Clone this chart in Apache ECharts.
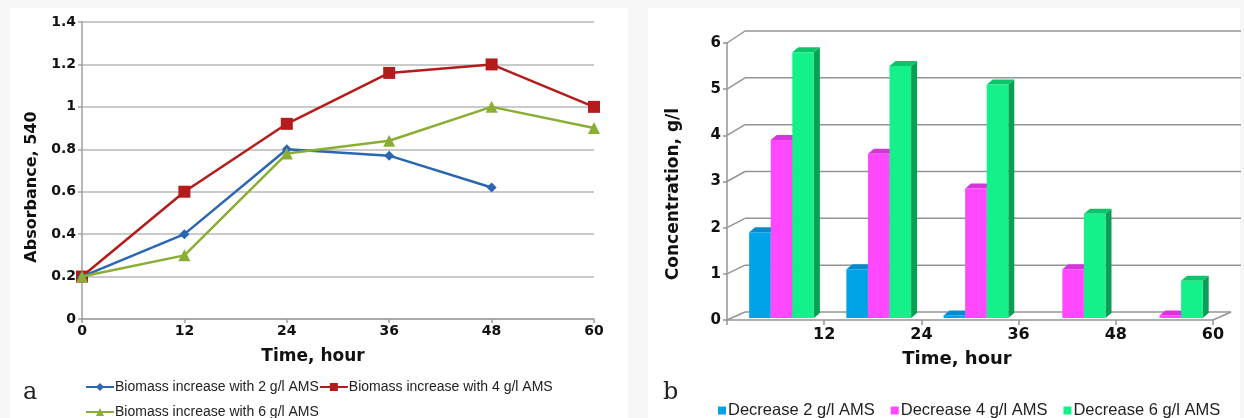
<!DOCTYPE html>
<html><head><meta charset="utf-8">
<script src="https://cdn.jsdelivr.net/npm/echarts@6/dist/echarts.min.js"></script>
<style>html,body{margin:0;padding:0;background:#f7f7f7}#c{width:1244px;height:418px}</style>
</head><body><div id="c"></div>
<script>
// ---- Data: panel a (line chart) ----
var hoursA = [0, 12, 24, 36, 48, 60];
var biomass2 = [0.2, 0.4, 0.8, 0.77, 0.62, null];
var biomass4 = [0.2, 0.6, 0.92, 1.16, 1.2, 1.0];
var biomass6 = [0.2, 0.3, 0.78, 0.84, 1.0, 0.9];
var namesA = ['Biomass increase with 2 g/l AMS', 'Biomass increase with 4 g/l AMS', 'Biomass increase with 6 g/l AMS'];

// ---- Data: panel b (bar chart) ----
var hoursB = ['12', '24', '36', '48', '60'];
var xTicksB = [0, 12, 24, 36, 48, 60];
var yTicksB = [0, 1, 2, 3, 4, 5, 6];
var decrease2 = [1.9, 1.1, 0.1, 0, 0];
var decrease4 = [3.9, 3.6, 2.85, 1.1, 0.1];
var decrease6 = [5.8, 5.5, 5.1, 2.3, 0.85];
var namesB = ['Decrease 2 g/l AMS', 'Decrease 4 g/l AMS', 'Decrease 6 g/l AMS'];

var BOLD = 'DejaVu Sans';
var chart = echarts.init(document.getElementById('c'), null, {renderer: 'canvas'});

function pairs(xs, ys) {
  var out = [];
  for (var i = 0; i < xs.length; i++) if (ys[i] !== null) out.push([xs[i], ys[i]]);
  return out;
}

var barColors = [
  {front: '#00a2e8', side: '#0076b6', top: '#0a8acd'},
  {front: '#ff48ff', side: '#c21fc8', top: '#d436da'},
  {front: '#14f08a', side: '#08a052', top: '#0cc46a'}
];

function barSeries(s, vals) {
  var data = vals.map(function (v, i) { return [i, v]; });
  return {
    type: 'custom', name: namesB[s], xAxisIndex: 1, yAxisIndex: 1, z: 3,
    itemStyle: {color: barColors[s].front},
    encode: {x: 0, y: 1},
    data: data,
    renderItem: function (params, api) {
      var idx = api.value(0), val = api.value(1);
      if (!val) return null;
      var top = api.coord([idx, val]);
      var base = api.coord([idx, 0]);
      var band = api.size([1, 0])[0];
      var w = band * 0.222;
      var x = top[0] - band * 0.272 + s * w;
      var yT = top[1], yB = base[1] - 2;
      var dx = 6, dy = -5;
      var c = barColors[s];
      return {
        type: 'group',
        children: [
          {type: 'polygon', shape: {points: [[x + w, yT], [x + w + dx, yT + dy], [x + w + dx, yB + dy], [x + w, yB]]}, style: {fill: c.side}},
          {type: 'polygon', shape: {points: [[x, yT], [x + dx, yT + dy], [x + w + dx, yT + dy], [x + w, yT]]}, style: {fill: c.top}},
          {type: 'rect', shape: {x: x, y: yT, width: w, height: yB - yT}, style: {fill: c.front}}
        ]
      };
    }
  };
}

var frameSeries = {
  type: 'custom', xAxisIndex: 1, yAxisIndex: 1, z: 1, silent: true,
  encode: {x: 0, y: 1},
  data: yTicksB.map(function (v) { return [0, v]; }),
  renderItem: function (params, api) {
    var v = api.value(1);
    var p = api.coord([0, v]);
    var band = api.size([1, 0])[0];
    var x0 = p[0] - band / 2;
    var xR = api.coord([hoursB.length - 1, v])[0] + band / 2;
    var y = p[1];
    var dx = 18, dy = -8 - (v / 6) * 4;
    var ls = {stroke: '#949494', lineWidth: 1.5};
    var ch = [
      {type: 'line', shape: {x1: x0, y1: y, x2: x0 + dx, y2: y + dy}, style: ls}
    ];
    if (v === 0) {
      ch.push({type: 'line', shape: {x1: x0 + dx, y1: y + dy, x2: xR + dx, y2: y + dy}, style: ls});
      ch.push({type: 'line', shape: {x1: xR + dx, y1: y + dy, x2: xR, y2: y}, style: ls});
    } else {
      ch.push({type: 'line', shape: {x1: x0 + dx, y1: y + dy, x2: xR + dx + 10, y2: y + dy}, style: ls});
    }
    return {type: 'group', children: ch};
  }
};

var lineColors = ['#2a66b2', '#b41c1c', '#8aad34'];

var option = {
  backgroundColor: '#f7f7f7',
  animation: false,
  graphic: [
    {type: 'rect', z: -10, shape: {x: 10, y: 8, width: 618, height: 410}, style: {fill: '#ffffff'}},
    {type: 'rect', z: -10, shape: {x: 648, y: 8, width: 592, height: 410}, style: {fill: '#ffffff'}},
    {type: 'text', left: 23, top: 381, style: {text: 'a', font: '24px "DejaVu Serif"', fill: '#222'}},
    {type: 'text', left: 663, top: 381, style: {text: 'b', font: '24px "DejaVu Serif"', fill: '#222'}},
    {type: 'text', x: 313, y: 357, style: {text: 'Time, hour', font: 'bold 17px "DejaVu Sans"', fill: '#111', align: 'center', verticalAlign: 'middle'}},
    {type: 'text', x: 32, y: 187, rotation: Math.PI / 2, style: {text: 'Absorbance, 540', font: 'bold 16px "DejaVu Sans"', fill: '#111', align: 'center', verticalAlign: 'middle'}},
    {type: 'text', x: 957, y: 359, style: {text: 'Time, hour', font: 'bold 18px "DejaVu Sans"', fill: '#111', align: 'center', verticalAlign: 'middle'}},
    {type: 'text', x: 674, y: 194, rotation: Math.PI / 2, style: {text: 'Concentration, g/l', font: 'bold 17px "DejaVu Sans"', fill: '#111', align: 'center', verticalAlign: 'middle'}}
  ],
  legend: [
    {data: [namesA[0], namesA[1]], left: 80, top: 375, itemWidth: 28, itemHeight: 10, itemGap: 0,
      textStyle: {fontFamily: 'Liberation Sans', fontSize: 14, color: '#222', padding: [0, 0, 0, -4]}},
    {data: [namesA[2]], left: 80, top: 400, itemWidth: 28, itemHeight: 10, itemGap: 0,
      textStyle: {fontFamily: 'Liberation Sans', fontSize: 14, color: '#222', padding: [0, 0, 0, -4]}},
    {data: namesB, left: 713, top: 397, icon: 'rect', itemWidth: 8, itemHeight: 8, itemGap: 16,
      textStyle: {fontFamily: 'Liberation Sans', fontSize: 16.5, color: '#222', padding: [0, 0, 0, -3]}}
  ],
  grid: [
    {left: 82, right: 650, top: 22, bottom: 99},
    {left: 727, right: 31, top: 43, bottom: 98}
  ],
  xAxis: [
    {gridIndex: 0, type: 'value', min: 0, max: 60, interval: 12,
      axisLine: {lineStyle: {color: '#a0a0a0', width: 1.5}},
      axisTick: {show: true, length: 4, lineStyle: {color: '#a0a0a0', width: 1.5}},
      splitLine: {show: false},
      axisLabel: {fontFamily: BOLD, fontWeight: 'bold', fontSize: 14, color: '#111', margin: 5}},
    {gridIndex: 1, type: 'category', data: hoursB, boundaryGap: true,
      axisLine: {lineStyle: {color: '#949494', width: 1.5}},
      axisTick: {show: false}, axisLabel: {show: false}, splitLine: {show: false}},
    {gridIndex: 1, type: 'value', min: xTicksB[0], max: xTicksB[xTicksB.length - 1], interval: 12, position: 'bottom',
      axisLine: {show: false},
      axisTick: {show: true, length: 5, lineStyle: {color: '#949494', width: 1.5}},
      splitLine: {show: false},
      axisLabel: {fontFamily: BOLD, fontWeight: 'bold', fontSize: 16, color: '#111', margin: 7,
        formatter: function (v) { return v === 0 ? '' : String(v); }}}
  ],
  yAxis: [
    {gridIndex: 0, type: 'value', min: 0, max: 1.4, interval: 0.2,
      axisLine: {show: true, lineStyle: {color: '#a0a0a0', width: 1.5}},
      axisTick: {show: true, length: 4, lineStyle: {color: '#a0a0a0', width: 1.5}},
      splitLine: {lineStyle: {color: '#b8b8b8', width: 1.5}},
      axisLabel: {fontFamily: BOLD, fontWeight: 'bold', fontSize: 14, color: '#111', margin: 6}},
    {gridIndex: 1, type: 'value', min: yTicksB[0], max: yTicksB[yTicksB.length - 1], interval: 1,
      axisLine: {show: true, lineStyle: {color: '#949494', width: 1.5}},
      axisTick: {show: true, length: 4, lineStyle: {color: '#949494', width: 1.5}},
      splitLine: {show: false},
      axisLabel: {fontFamily: BOLD, fontWeight: 'bold', fontSize: 15, color: '#111', margin: 6}}
  ],
  series: [
    {type: 'line', name: namesA[0], xAxisIndex: 0, yAxisIndex: 0, data: pairs(hoursA, biomass2),
      symbol: 'diamond', symbolSize: 10, color: lineColors[0], lineStyle: {width: 2.5}, z: 4},
    {type: 'line', name: namesA[1], xAxisIndex: 0, yAxisIndex: 0, data: pairs(hoursA, biomass4),
      symbol: 'rect', symbolSize: 12, color: lineColors[1], lineStyle: {width: 2.5}, z: 3},
    {type: 'line', name: namesA[2], xAxisIndex: 0, yAxisIndex: 0, data: pairs(hoursA, biomass6),
      symbol: 'triangle', symbolSize: 12, color: lineColors[2], lineStyle: {width: 2.5}, z: 5},
    frameSeries,
    barSeries(0, decrease2),
    barSeries(1, decrease4),
    barSeries(2, decrease6)
  ]
};
chart.setOption(option);
</script>
</body></html>
